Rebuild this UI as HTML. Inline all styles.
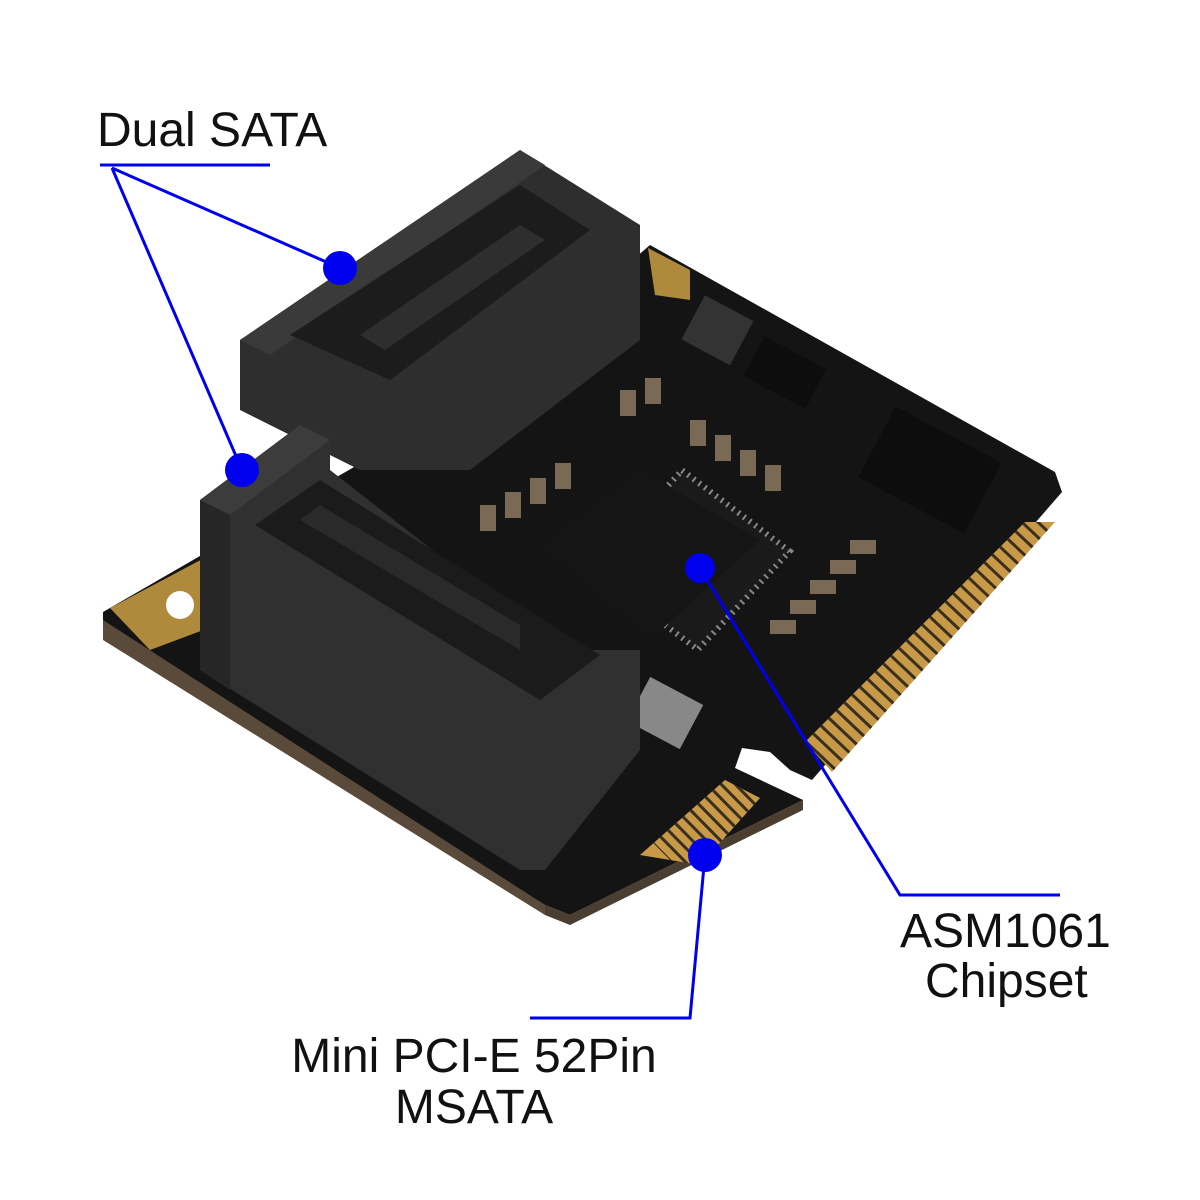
<!DOCTYPE html>
<html><head><meta charset="utf-8"><style>
html,body{margin:0;padding:0;background:#fff;width:1200px;height:1200px;overflow:hidden}
svg{display:block}
text{font-family:"Liberation Sans",Arial,sans-serif;fill:#111}
</style></head><body>
<svg width="1200" height="1200" viewBox="0 0 1200 1200">
<defs>
<clipPath id="c1"><polygon points="1055,522 832,772 805,742 1025,522"/></clipPath>
<clipPath id="c2"><polygon points="725,780 760,798 700,865 640,855"/></clipPath>
</defs>
<!-- PCB -->
<polygon points="103,612 470,400 650,245 1055,472 1062,492 812,780 790,770 770,752 742,748 735,768 803,800 570,915 545,905 103,632" fill="#141414"/>
<polygon points="103,620 545,905 545,915 103,640" fill="#5a4a3a"/>
<polygon points="545,905 570,915 803,800 803,810 570,925 545,915" fill="#4a3e30"/>
<!-- gold pads -->
<polygon points="110,608 210,555 230,620 150,650" fill="#b08a3c"/>
<circle cx="180" cy="605" r="14" fill="#fff"/>
<polygon points="648,248 690,270 690,300 655,295" fill="#b08a3c"/>
<!-- gold fingers -->
<polygon points="1055,522 832,772 805,742 1025,522" fill="#c89a48"/>
<line x1="1040" y1="522" x2="818" y2="757" stroke="#141414" stroke-width="48" stroke-dasharray="3 8" opacity="0.8" clip-path="url(#c1)"/>
<polygon points="725,780 760,798 700,865 640,855" fill="#c89a48"/>
<line x1="742" y1="789" x2="670" y2="860" stroke="#141414" stroke-width="50" stroke-dasharray="3 7" opacity="0.8" clip-path="url(#c2)"/>
<!-- chip -->
<polygon points="690,470 790,560 690,650 590,560" fill="#1a1a1a" transform="rotate(-5 690 560)"/>
<polygon points="690,470 790,560 690,650 590,560" fill="none" stroke="#888" stroke-width="6" stroke-dasharray="2 5" transform="rotate(-5 690 560)"/>
<polygon points="540,545 640,470 760,540 650,640" fill="#151515"/>
<!-- small components -->
<rect x="690" y="305" width="55" height="50" fill="#333" transform="rotate(28 717 330)"/>
<rect x="750" y="350" width="70" height="45" fill="#0d0d0d" transform="rotate(28 785 372)"/>
<rect x="870" y="430" width="120" height="80" fill="#0d0d0d" transform="rotate(28 930 470)"/>
<rect x="635" y="688" width="60" height="50" fill="#888" transform="rotate(28 665 713)"/>
<g fill="#7a6a55">
<rect x="480" y="505" width="16" height="26"/><rect x="505" y="492" width="16" height="26"/><rect x="530" y="478" width="16" height="26"/><rect x="555" y="463" width="16" height="26"/>
<rect x="620" y="390" width="16" height="26"/><rect x="645" y="378" width="16" height="26"/>
<rect x="690" y="420" width="16" height="26"/><rect x="715" y="435" width="16" height="26"/><rect x="740" y="450" width="16" height="26"/><rect x="765" y="465" width="16" height="26"/>
<rect x="770" y="620" width="26" height="14"/><rect x="790" y="600" width="26" height="14"/><rect x="810" y="580" width="26" height="14"/><rect x="830" y="560" width="26" height="14"/><rect x="850" y="540" width="26" height="14"/>
</g>
<!-- upper SATA connector -->
<polygon points="240,340 520,150 640,225 640,340 470,470 360,470 240,410" fill="#2e2e2e"/>
<polygon points="240,340 520,150 545,165 270,355" fill="#3a3a3a"/>
<polygon points="290,335 520,185 590,230 390,380" fill="#1c1c1c"/>
<polygon points="360,335 520,225 545,240 385,350" fill="#2e2e2e"/>
<!-- lower SATA connector -->
<polygon points="200,500 300,425 330,440 330,470 560,650 640,650 640,750 545,870 520,870 200,670" fill="#303030"/>
<polygon points="200,500 300,425 330,440 230,515" fill="#3c3c3c"/>
<polygon points="255,525 320,480 600,655 540,700" fill="#1b1b1b"/>
<polygon points="300,520 320,505 520,625 520,650" fill="#2a2a2a"/>
<polygon points="200,500 230,515 230,690 200,670" fill="#262626"/>
<!-- annotations -->
<g stroke="#0000ee" stroke-width="3" fill="none">
<polyline points="100,165 270,165"/>
<line x1="112" y1="168" x2="340" y2="268"/>
<line x1="112" y1="168" x2="242" y2="470"/>
<polyline points="1060,895 900,895 700,568"/>
<polyline points="530,1018 690,1018 705,855"/>
</g>
<g fill="#0000ee">
<circle cx="340" cy="268" r="17"/><circle cx="242" cy="470" r="17"/>
<circle cx="700" cy="568" r="15"/><circle cx="705" cy="855" r="17"/>
</g>
<text x="97" y="146" font-size="48">Dual SATA</text>
<text x="900" y="947" font-size="48">ASM1061</text>
<text x="925" y="997" font-size="48">Chipset</text>
<text x="474" y="1072" font-size="48" text-anchor="middle">Mini PCI-E 52Pin</text>
<text x="474" y="1123" font-size="48" text-anchor="middle">MSATA</text>
</svg>
</body></html>
